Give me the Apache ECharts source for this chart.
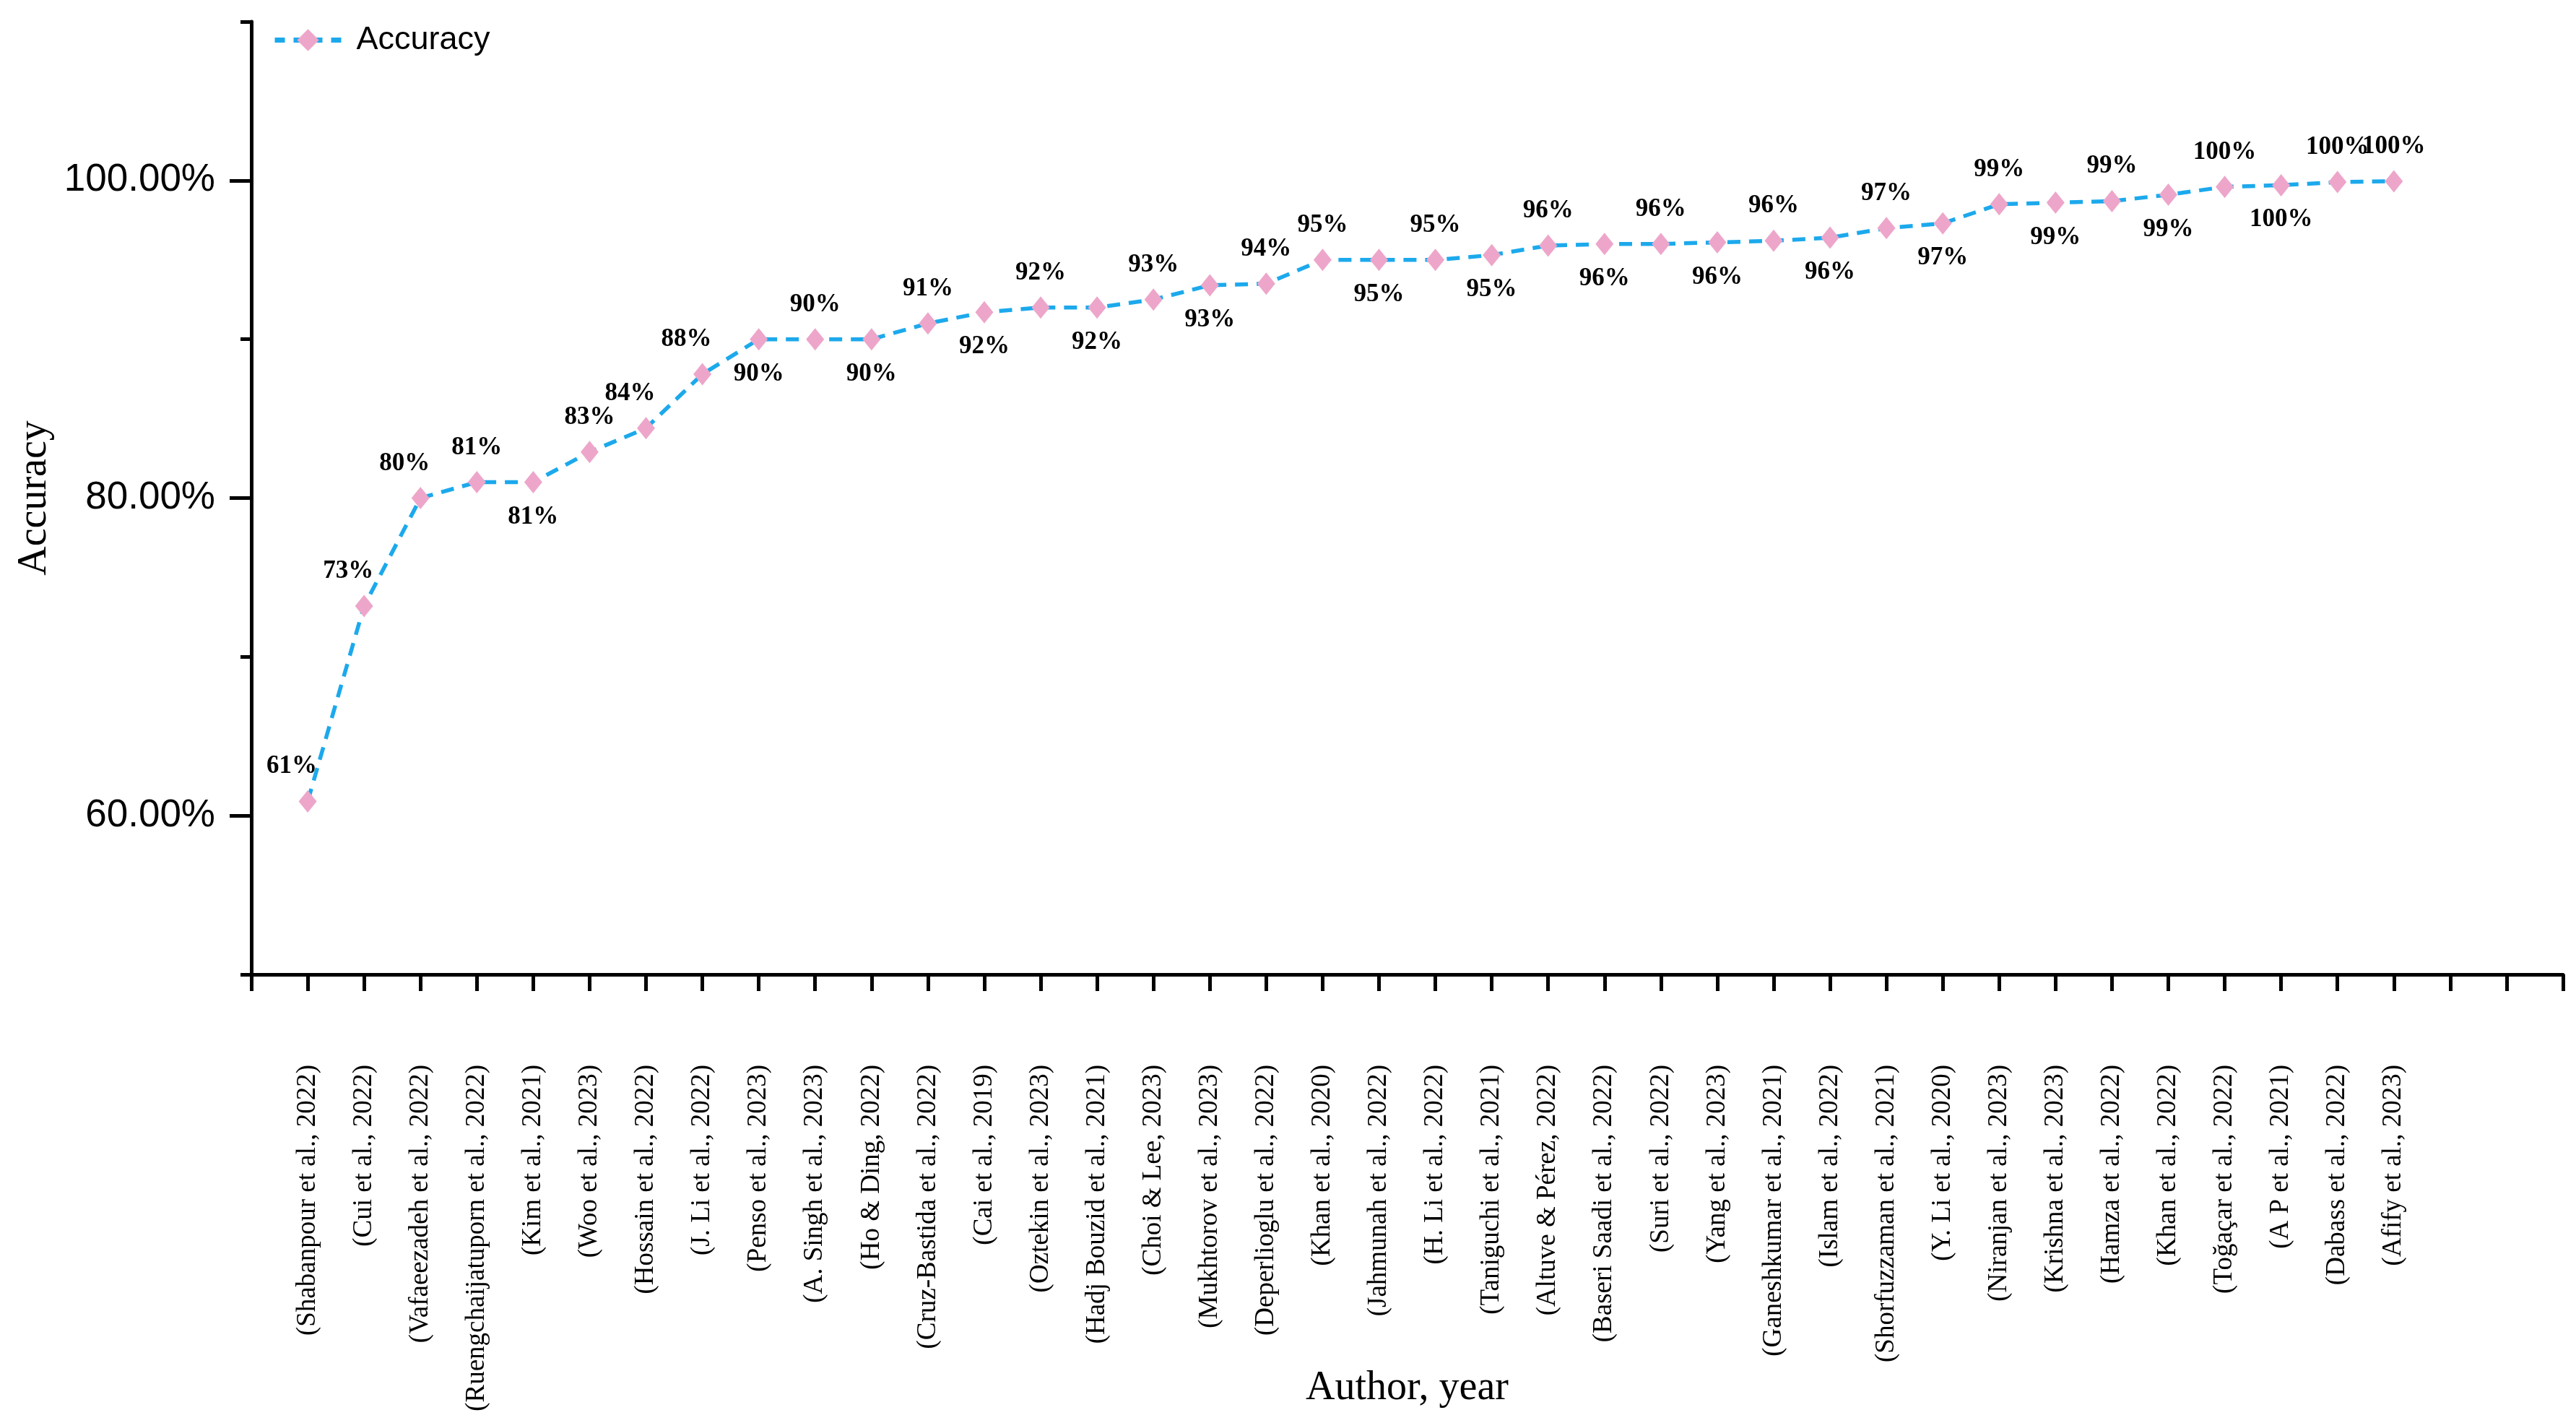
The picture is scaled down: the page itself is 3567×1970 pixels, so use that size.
<!DOCTYPE html>
<html>
<head>
<meta charset="utf-8">
<script src="https://cdn.jsdelivr.net/npm/echarts@6/dist/echarts.min.js"></script>
<style>
html,body{margin:0;padding:0;background:#fff;}
#chart{width:3567px;height:1970px;}
</style>
</head>
<body>
<div id="chart"></div>
<script>
const authors = [
  '(Shabanpour et al., 2022)', '(Cui et al., 2022)', '(Vafaeezadeh et al., 2022)',
  '(Ruengchaijatuporn et al., 2022)', '(Kim et al., 2021)', '(Woo et al., 2023)',
  '(Hossain et al., 2022)', '(J. Li et al., 2022)', '(Penso et al., 2023)',
  '(A. Singh et al., 2023)', '(Ho & Ding, 2022)', '(Cruz-Bastida et al., 2022)',
  '(Cai et al., 2019)', '(Oztekin et al., 2023)', '(Hadj Bouzid et al., 2021)',
  '(Choi & Lee, 2023)', '(Mukhtorov et al., 2023)', '(Deperlioglu et al., 2022)',
  '(Khan et al., 2020)', '(Jahmunah et al., 2022)', '(H. Li et al., 2022)',
  '(Taniguchi et al., 2021)', '(Altuve & Pérez, 2022)', '(Baseri Saadi et al., 2022)',
  '(Suri et al., 2022)', '(Yang et al., 2023)', '(Ganeshkumar et al., 2021)',
  '(Islam et al., 2022)', '(Shorfuzzaman et al., 2021)', '(Y. Li et al., 2020)',
  '(Niranjan et al., 2023)', '(Krishna et al., 2023)', '(Hamza et al., 2022)',
  '(Khan et al., 2022)', '(Toğaçar et al., 2022)', '(A P et al., 2021)',
  '(Dabass et al., 2022)', '(Afify et al., 2023)'
];
const accuracy = [
  60.9, 73.2, 80.0, 81.0, 81.0, 82.9, 84.4, 87.8, 90.0, 90.0,
  90.0, 91.0, 91.7, 92.0, 92.0, 92.5, 93.4, 93.5, 95.0, 95.0,
  95.0, 95.3, 95.9, 96.0, 96.0, 96.1, 96.2, 96.4, 97.0, 97.3,
  98.5, 98.6, 98.7, 99.1, 99.6, 99.7, 99.9, 99.95
];
const yMajorTicks = [60, 80, 100];
const yMinorTicks = [50, 70, 90, 110];

// label placement (style config)
const belowIdx = [4, 8, 10, 12, 14, 16, 19, 21, 23, 25, 27, 29, 31, 33, 35];
const leftShiftIdx = [0, 1, 2, 6, 7];

const seriesData = accuracy.map((v, i) => {
  const below = belowIdx.includes(i);
  return {
    value: [i, v],
    label: {
      position: below ? 'bottom' : 'top',
      offset: leftShiftIdx.includes(i) ? [-22, 0] : [0, 0]
    }
  };
});

const chart = echarts.init(document.getElementById('chart'), null, {renderer: 'canvas'});
chart.setOption({
  backgroundColor: '#fff',
  animation: false,
  grid: {left: 348, right: 18, top: 30, bottom: 621, containLabel: false, outerBoundsMode: 'none'},
  legend: {
    data: ['Accuracy'],
    left: 372,
    top: 28,
    itemWidth: 92,
    itemHeight: 38,
    lineStyle: {width: 7, type: [14, 12]},
    textStyle: {fontFamily: 'Liberation Sans', fontSize: 45, color: '#000', padding: [0, 0, 0, 16]}
  },
  xAxis: {
    type: 'value',
    min: -1,
    max: 40,
    interval: 1,
    name: 'Author, year',
    nameLocation: 'middle',
    nameGap: 545,
    nameMoveOverlap: false,
    nameTextStyle: {fontFamily: 'Liberation Serif', fontSize: 56, color: '#000'},
    axisLine: {show: true, onZero: false, lineStyle: {color: '#000', width: 5}},
    axisTick: {show: true, inside: false, length: 23, lineStyle: {color: '#000', width: 5}},
    splitLine: {show: false},
    axisLabel: {
      rotate: 90,
      margin: 125,
      fontFamily: 'Liberation Serif',
      fontSize: 37,
      color: '#000',
      formatter: v => (authors[v] !== undefined ? authors[v] : '')
    }
  },
  yAxis: [
    {
      type: 'value',
      min: 50,
      max: 110,
      name: 'Accuracy',
      nameLocation: 'middle',
      nameGap: 272,
      nameMoveOverlap: false,
      nameTextStyle: {fontFamily: 'Liberation Serif', fontSize: 56, color: '#000'},
      axisLine: {show: true, onZero: false, lineStyle: {color: '#000', width: 5}},
      axisTick: {show: true, length: 30, customValues: yMajorTicks, lineStyle: {color: '#000', width: 5}},
      splitLine: {show: false},
      axisLabel: {
        customValues: yMajorTicks,
        margin: 50,
        fontFamily: 'Liberation Sans',
        fontSize: 53,
        color: '#000',
        formatter: v => v.toFixed(2) + '%'
      }
    },
    {
      type: 'value',
      min: 50,
      max: 110,
      position: 'left',
      axisLine: {show: false, onZero: false},
      axisTick: {show: true, length: 15, customValues: yMinorTicks, lineStyle: {color: '#000', width: 5}},
      axisLabel: {show: false},
      splitLine: {show: false}
    }
  ],
  series: [{
    name: 'Accuracy',
    type: 'line',
    yAxisIndex: 0,
    data: seriesData,
    symbol: 'diamond',
    symbolSize: [25, 31],
    itemStyle: {color: '#EDA6CA'},
    lineStyle: {color: '#1CA9EC', width: 5.5, type: [18, 12]},
    label: {
      show: true,
      distance: 15,
      fontFamily: 'Liberation Serif',
      fontWeight: 'bold',
      fontSize: 35,
      color: '#000',
      formatter: p => Math.round(p.value[1]) + '%'
    },
    z: 3
  }]
});
</script>
</body>
</html>
